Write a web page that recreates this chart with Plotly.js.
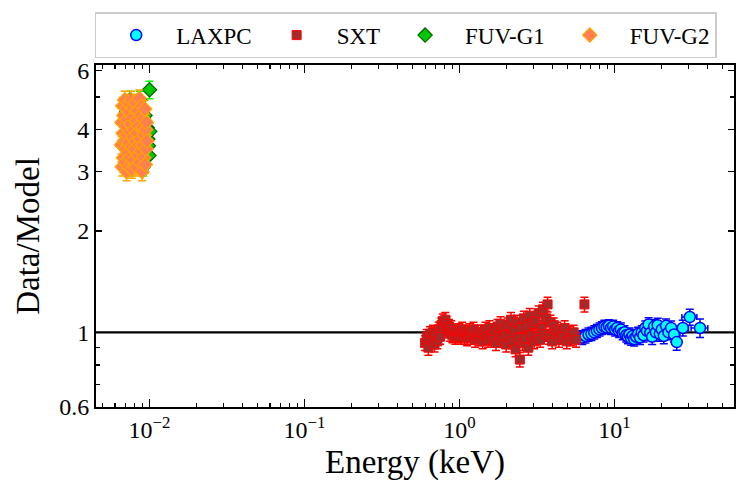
<!DOCTYPE html>
<html>
<head>
<meta charset="utf-8">
<script src="https://cdn.plot.ly/plotly-3.0.1.min.js"></script>
<style>html,body{margin:0;padding:0;background:#fff;}#chart{width:747px;height:493px;}</style>
</head>
<body>
<div id="chart"></div>
<script>
// ---------- data ----------
const seriesNames = ["LAXPC", "SXT", "FUV-G1", "FUV-G2"];

const laxpcE = [6.2, 6.5, 6.8, 7.1, 7.4, 7.7, 8.0, 8.3, 8.6, 8.9,
                9.2, 9.5, 9.8, 10.1, 10.4, 10.7, 11.0, 11.3, 11.6, 11.9,
                12.2, 12.5, 12.8, 13.1, 13.4, 13.8, 14.2, 14.6, 15.0, 15.4,
                15.8, 16.2, 16.6, 17.0, 17.5, 18.0, 18.5, 19.0, 19.6, 20.2,
                20.8, 21.5, 22.3, 23.2, 24.2, 25.2, 27.6, 30.6, 35.6];
const laxpcR = [0.965, 0.975, 0.985, 0.99, 1.0, 1.01, 1.02, 1.03, 1.04, 1.035,
                1.045, 1.03, 1.04, 1.02, 1.03, 1.01, 1.02, 0.995, 1.0, 0.98,
                0.97, 0.985, 0.96, 0.975, 0.955, 0.97, 0.99, 0.965, 1.0, 0.98,
                1.03, 1.01, 1.055, 0.995, 0.97, 1.04, 1.0, 1.05, 0.99, 1.02,
                0.975, 1.045, 1.0, 1.03, 0.985, 0.935, 1.03, 1.11, 1.03];
const laxpcEerr = [0.3, 0.3, 0.3, 0.35, 0.35, 0.35, 0.4, 0.4, 0.4, 0.45,
                   0.45, 0.45, 0.5, 0.5, 0.5, 0.55, 0.55, 0.55, 0.6, 0.6,
                   0.6, 0.65, 0.65, 0.65, 0.7, 0.7, 0.75, 0.75, 0.8, 0.8,
                   0.85, 0.85, 0.9, 0.9, 0.95, 1.0, 1.0, 1.1, 1.1, 1.2,
                   1.2, 1.3, 1.4, 1.5, 1.6, 1.8, 2.4, 3.4, 4.4];
const laxpcRerr = [0.045, 0.045, 0.045, 0.045, 0.045, 0.045, 0.045, 0.045, 0.045, 0.045,
                   0.045, 0.045, 0.045, 0.045, 0.045, 0.045, 0.045, 0.045, 0.045, 0.045,
                   0.045, 0.045, 0.045, 0.045, 0.045, 0.045, 0.045, 0.045, 0.045, 0.045,
                   0.05, 0.05, 0.05, 0.05, 0.05, 0.05, 0.05, 0.05, 0.05, 0.05,
                   0.05, 0.05, 0.05, 0.05, 0.05, 0.05, 0.055, 0.06, 0.065];

const sxtE = [0.600, 0.615, 0.630, 0.645, 0.660, 0.675, 0.690, 0.705, 0.720, 0.735,
              0.750, 0.765, 0.780, 0.795, 0.810, 0.825, 0.840, 0.855, 0.870, 0.885,
              0.900, 0.920, 0.940, 0.960, 0.980, 1.000, 1.020, 1.040, 1.060, 1.080,
              1.100, 1.120, 1.140, 1.160, 1.180, 1.200, 1.230, 1.260, 1.290, 1.320,
              1.350, 1.380, 1.410, 1.440, 1.470, 1.500, 1.530, 1.560, 1.600, 1.640,
              1.680, 1.720, 1.760, 1.800, 1.840, 1.880, 1.920, 1.960, 2.000, 2.050,
              2.100, 2.150, 2.200, 2.250, 2.300, 2.350, 2.400, 2.450, 2.500, 2.550,
              2.600, 2.660, 2.720, 2.780, 2.840, 2.900, 2.960, 3.030, 3.100, 3.170,
              3.240, 3.310, 3.380, 3.460, 3.540, 3.620, 3.700, 3.780, 3.870, 3.960,
              4.060, 4.160, 4.270, 4.380, 4.500, 4.630, 4.770, 4.920, 5.080, 5.250,
              5.450, 5.650, 6.400];
const sxtR = [0.93, 0.97, 0.90, 0.99, 0.95, 1.00, 0.92, 0.98, 0.94, 1.02,
              0.97, 1.05, 1.08, 1.03, 1.09, 1.06, 1.02, 1.04, 0.99, 1.03,
              0.98, 1.01, 0.97, 1.00, 0.98, 1.01, 0.97, 1.02, 0.99, 0.97,
              1.00, 0.96, 0.99, 1.01, 0.97, 0.99, 1.02, 0.95, 0.98, 1.00,
              0.96, 1.00, 0.94, 0.99, 1.02, 0.97, 0.95, 1.03, 0.98, 0.96,
              1.01, 0.93, 1.04, 0.97, 1.06, 0.95, 1.02, 0.98, 0.92, 1.05,
              0.97, 1.09, 0.94, 1.02, 0.89, 1.07, 0.96, 0.83, 1.03, 0.93,
              1.10, 0.96, 1.04, 0.90, 1.12, 0.98, 1.06, 0.94, 1.08, 0.97,
              1.14, 0.95, 1.03, 1.17, 0.99, 1.10, 1.21, 0.97, 1.07, 0.94,
              1.05, 0.99, 1.02, 0.95, 1.00, 0.97, 1.03, 0.94, 0.99, 0.96,
              1.00, 0.95, 1.21];

const g1E = [0.00700, 0.00705, 0.00710, 0.00715, 0.00720, 0.00725, 0.00730, 0.00735, 0.00740, 0.00745,
             0.00750, 0.00756, 0.00762, 0.00768, 0.00774, 0.00780, 0.00786, 0.00792, 0.00798, 0.00804,
             0.00810, 0.00817, 0.00824, 0.00831, 0.00838, 0.00845, 0.00852, 0.00859, 0.00866, 0.00873,
             0.00880, 0.00888, 0.00896, 0.00904, 0.00912, 0.00920, 0.00928, 0.00936, 0.00944, 0.00952,
             0.00960, 0.00968, 0.00976, 0.00984, 0.00992, 0.01000, 0.01005];
const g1R = [3.9, 3.3, 4.5, 3.1, 4.1, 3.6, 4.8, 3.2, 4.3, 3.8,
             4.9, 3.4, 4.0, 3.1, 4.6, 3.7, 4.2, 3.3, 4.8, 3.5,
             4.0, 3.15, 4.4, 3.8, 4.7, 3.3, 4.1, 3.6, 4.9, 3.2,
             4.3, 3.9, 3.4, 4.6, 3.1, 4.0, 3.7, 4.4, 3.3, 3.9,
             3.6, 4.05, 3.75, 3.58, 3.35, 5.25, 3.95];

const g2E = [0.00660, 0.00664, 0.00668, 0.00672, 0.00676, 0.00680, 0.00684, 0.00688, 0.00692, 0.00696,
             0.00700, 0.00704, 0.00708, 0.00712, 0.00716, 0.00720, 0.00724, 0.00728, 0.00732, 0.00736,
             0.00740, 0.00745, 0.00750, 0.00755, 0.00760, 0.00765, 0.00770, 0.00775, 0.00780, 0.00785,
             0.00790, 0.00795, 0.00800, 0.00806, 0.00812, 0.00818, 0.00824, 0.00830, 0.00836, 0.00842,
             0.00848, 0.00854, 0.00860, 0.00866, 0.00872, 0.00878, 0.00884, 0.00890, 0.00896, 0.00902,
             0.00908, 0.00914, 0.00920, 0.00926, 0.00932, 0.00938, 0.00944, 0.00950, 0.00956, 0.00962];
const g2R = [3.6, 4.2, 3.1, 4.7, 3.9, 3.3, 4.4, 3.7, 4.9, 3.2,
             4.1, 3.5, 4.6, 3.0, 3.85, 4.3, 3.4, 4.8, 3.65, 3.1,
             4.5, 3.95, 3.3, 4.15, 4.9, 3.55, 3.05, 4.35, 3.8, 4.65,
             3.25, 4.0, 3.5, 4.8, 3.7, 3.1, 4.25, 3.9, 4.55, 3.35,
             4.1, 3.6, 4.95, 3.2, 3.75, 4.4, 3.45, 4.7, 3.0, 4.05,
             3.6, 4.3, 3.3, 3.85, 4.6, 3.15, 4.0, 3.5, 4.2, 3.7];

// ---------- axis ticks ----------
const xTickVals = [0.01, 0.1, 1, 10];
const xTickText = ["10<sup>−2</sup>", "10<sup>−1</sup>", "10<sup>0</sup>", "10<sup>1</sup>"];
const xMinorVals = [0.005, 0.006, 0.007, 0.008, 0.009, 0.02, 0.03, 0.04, 0.05, 0.06, 0.07, 0.08, 0.09,
                    0.2, 0.3, 0.4, 0.5, 0.6, 0.7, 0.8, 0.9, 2, 3, 4, 5, 6, 7, 8, 9, 20, 30, 40, 50];
const yTickVals = [0.6, 1, 2, 3, 4, 6];
const yTickText = ["0.6", "1", "2", "3", "4", "6"];
const yMinorVals = [0.7, 0.8, 0.9, 5];

const FONT = "Liberation Serif, Times New Roman, serif";

const traces = [
  {
    name: seriesNames[0], x: laxpcE, y: laxpcR, type: "scatter", mode: "markers",
    error_x: {type: "data", array: laxpcEerr, color: "#0000ff", thickness: 1.5, width: 3},
    error_y: {type: "data", array: laxpcRerr, color: "#0000ff", thickness: 1.5, width: 4},
    marker: {symbol: "circle", size: 11, color: "#00ffff", line: {color: "#0000ff", width: 1.5}}
  },
  {
    name: seriesNames[1], x: sxtE, y: sxtR, type: "scatter", mode: "markers",
    error_x: {type: "percent", value: 4, color: "#ff0000", thickness: 1.5, width: 3},
    error_y: {type: "percent", value: 5, color: "#ff0000", thickness: 1.5, width: 4},
    marker: {symbol: "square", size: 9, color: "#a52a2a", line: {color: "#ff0000", width: 1}}
  },
  {
    name: seriesNames[2], x: g1E, y: g1R, type: "scatter", mode: "markers",
    error_x: {type: "percent", value: 1.5, color: "#00ff00", thickness: 1.5, width: 3},
    error_y: {type: "percent", value: 6, color: "#00ff00", thickness: 1.5, width: 4},
    marker: {symbol: "diamond", size: 11, color: "#00c800", line: {color: "#006400", width: 1.2}}
  },
  {
    name: seriesNames[3], x: g2E, y: g2R, type: "scatter", mode: "markers",
    error_x: {type: "percent", value: 1.5, color: "#ffa500", thickness: 1.5, width: 3},
    error_y: {type: "percent", value: 6, color: "#ffa500", thickness: 1.5, width: 4},
    marker: {symbol: "diamond", size: 11, color: "#ff7f50", line: {color: "#ffa500", width: 1.2}}
  }
];

const layout = {
  width: 747, height: 493,
  margin: {l: 96, r: 13, t: 60, b: 86},
  paper_bgcolor: "#ffffff", plot_bgcolor: "#ffffff",
  font: {family: FONT, color: "#000000", size: 22},
  showlegend: true,
  legend: {
    orientation: "h", x: -0.002, xanchor: "left", y: 1.02, yanchor: "bottom",
    bordercolor: "#cccccc", borderwidth: 1.5, bgcolor: "#ffffff",
    font: {family: FONT, size: 23, color: "#000000"},
    itemwidth: 70, traceorder: "normal"
  },
  xaxis: {
    type: "log", range: [Math.log10(0.00452), Math.log10(59)],
    showgrid: false, zeroline: false,
    showline: true, linecolor: "#000000", linewidth: 2, mirror: "ticks",
    ticks: "inside", ticklen: 8, tickwidth: 1.5, tickcolor: "#000000",
    tickmode: "array", tickvals: xTickVals, ticktext: xTickText,
    tickfont: {family: FONT, size: 24},
    minor: {tickmode: "array", tickvals: xMinorVals, ticks: "inside", ticklen: 4, tickwidth: 1.2, tickcolor: "#000000", showgrid: false},
    title: {text: "Energy (keV)", font: {family: FONT, size: 33}, standoff: 8}
  },
  yaxis: {
    type: "log", range: [Math.log10(0.6), Math.log10(6.22)],
    showgrid: false, zeroline: false,
    showline: true, linecolor: "#000000", linewidth: 2, mirror: "ticks",
    ticks: "inside", ticklen: 6, tickwidth: 1.5, tickcolor: "#000000",
    tickmode: "array", tickvals: yTickVals, ticktext: yTickText,
    tickfont: {family: FONT, size: 24},
    minor: {tickmode: "array", tickvals: yMinorVals, ticks: "inside", ticklen: 4, tickwidth: 1.2, tickcolor: "#000000", showgrid: false},
    title: {text: "Data/Model", font: {family: FONT, size: 33}, standoff: 10}
  },
  shapes: [
    {type: "line", xref: "paper", yref: "y", x0: 0, x1: 1, y0: 1, y1: 1, line: {color: "#000000", width: 2.2}, layer: "below"}
  ]
};

Plotly.newPlot("chart", traces, layout, {displayModeBar: false, staticPlot: true});
</script>
</body>
</html>
